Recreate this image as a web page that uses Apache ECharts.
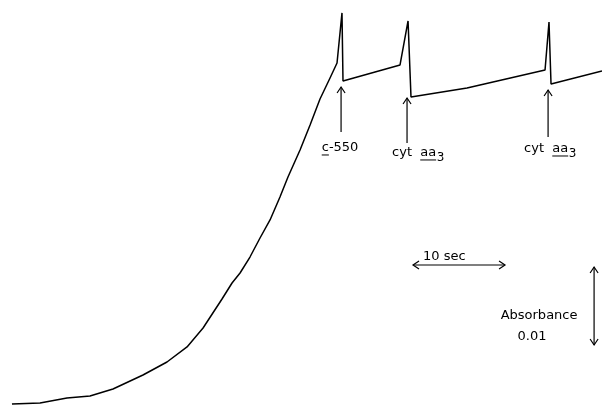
<!DOCTYPE html>
<html><head><meta charset="utf-8">
<script src="https://cdn.jsdelivr.net/npm/echarts@6/dist/echarts.min.js"></script>
<style>html,body{margin:0;background:#fff}#c{width:602px;height:405px}</style>
</head><body><div id="c"></div>
<script>
// time in seconds, absorbance in milli-absorbance units (10 mA = 0.01)
const traceTime = [1.30, 4.35, 7.28, 9.78, 12.28, 15.54, 18.15, 20.33, 22.07, 24.13, 25.22, 26.09, 27.17, 28.26, 29.35, 30.43, 31.30, 32.61, 33.70, 34.78, 35.87, 36.63, 37.17, 37.28, 43.48, 44.35, 44.67, 50.76, 59.24, 59.67, 59.89, 65.43];
const traceAbs  = [0.13, 0.26, 0.90, 1.15, 2.05, 3.85, 5.51, 7.44, 9.87, 13.59, 15.64, 16.92, 18.97, 21.41, 23.72, 26.67, 29.23, 32.69, 35.90, 39.23, 41.92, 43.85, 50.26, 41.54, 43.59, 49.23, 39.49, 40.64, 42.95, 49.10, 41.15, 42.82];

// arrows: [x1, y1, x2, y2, bothEnds]
const eventArrows = [
  [37.07, 35.00, 37.07, 40.77, 0],
  [44.24, 33.59, 44.24, 39.36, 0],
  [59.57, 34.36, 59.57, 40.38, 0]
];
const scaleBars = [
  [44.89, 17.95, 54.89, 17.95, 1],
  [64.57, 7.69, 64.57, 17.69, 1]
];
// labels: [x, y, text, align, underlineStart, underlineLen, subscript]
const labels = [
  [36.96, 32.95, 'c-550', 'center', 0, 1, ''],
  [42.61, 32.31, 'cyt  aa', 'left', 5, 2, '3'],
  [56.96, 32.82, 'cyt  aa', 'left', 5, 2, '3'],
  [45.98, 18.97, '10 sec', 'left', -1, 0, ''],
  [58.59, 11.41, 'Absorbance', 'center', -1, 0, ''],
  [57.83, 8.72, '0.01', 'center', -1, 0, '']
];

const FONT = '13px "DejaVu Sans"';
const SUB_FONT = '12px "DejaVu Sans"';
const measureCtx = document.createElement('canvas').getContext('2d');
function textW(s, f) { measureCtx.font = f; return measureCtx.measureText(s).width; }

function renderArrow(params, api) {
  const a = api.coord([api.value(0), api.value(1)]);
  const b = api.coord([api.value(2), api.value(3)]);
  const both = api.value(4);
  const st = { stroke: '#000', lineWidth: 1.2, fill: null };
  const children = [{ type: 'line', shape: { x1: a[0], y1: a[1], x2: b[0], y2: b[1] }, style: st }];
  const head = (tip, from) => {
    const dx = tip[0] - from[0], dy = tip[1] - from[1];
    const len = Math.sqrt(dx * dx + dy * dy);
    const ux = dx / len, uy = dy / len, nx = -uy, ny = ux;
    const L = 6, W = 4;
    return { type: 'polyline', shape: { points: [
      [tip[0] - ux * L + nx * W, tip[1] - uy * L + ny * W],
      [tip[0], tip[1]],
      [tip[0] - ux * L - nx * W, tip[1] - uy * L - ny * W]
    ] }, style: st };
  };
  children.push(head(b, a));
  if (both) children.push(head(a, b));
  return { type: 'group', children };
}

function renderLabel(params, api) {
  const l = labels[api.value(2)];
  const p = api.coord([api.value(0), api.value(1)]);
  const text = l[2];
  const w = textW(text, FONT);
  const left = l[3] === 'center' ? p[0] - w / 2 : p[0];
  const children = [{ type: 'text', x: left, y: p[1], style: { text, font: FONT, fill: '#000', align: 'left', verticalAlign: 'middle' } }];
  if (l[4] >= 0) {
    const x1 = left + textW(text.slice(0, l[4]), FONT);
    const x2 = left + textW(text.slice(0, l[4] + l[5]), FONT);
    children.push({ type: 'line', shape: { x1, y1: p[1] + 7, x2, y2: p[1] + 7 }, style: { stroke: '#000', lineWidth: 1 } });
  }
  if (l[6]) {
    children.push({ type: 'text', x: left + w + 0.5, y: p[1] + 5, style: { text: l[6], font: SUB_FONT, fill: '#000', align: 'left', verticalAlign: 'middle' } });
  }
  return { type: 'group', children };
}

const chart = echarts.init(document.getElementById('c'), null, { renderer: 'canvas' });
chart.setOption({
  animation: false,
  backgroundColor: '#fff',
  grid: { left: 0, right: 0, top: 0, bottom: 0 },
  xAxis: { type: 'value', min: 0, max: 65.43, show: false },
  yAxis: { type: 'value', min: 0, max: 51.92, show: false },
  series: [
    { type: 'line', data: traceTime.map((t, i) => [t, traceAbs[i]]), showSymbol: false, smooth: false,
      lineStyle: { color: '#000', width: 1.5 }, clip: false },
    { type: 'custom', renderItem: renderArrow, data: eventArrows.concat(scaleBars), encode: { x: [0, 2], y: [1, 3] }, clip: false },
    { type: 'custom', renderItem: renderLabel, data: labels.map((l, i) => [l[0], l[1], i]), encode: { x: 0, y: 1 }, clip: false }
  ]
});
</script></body></html>
